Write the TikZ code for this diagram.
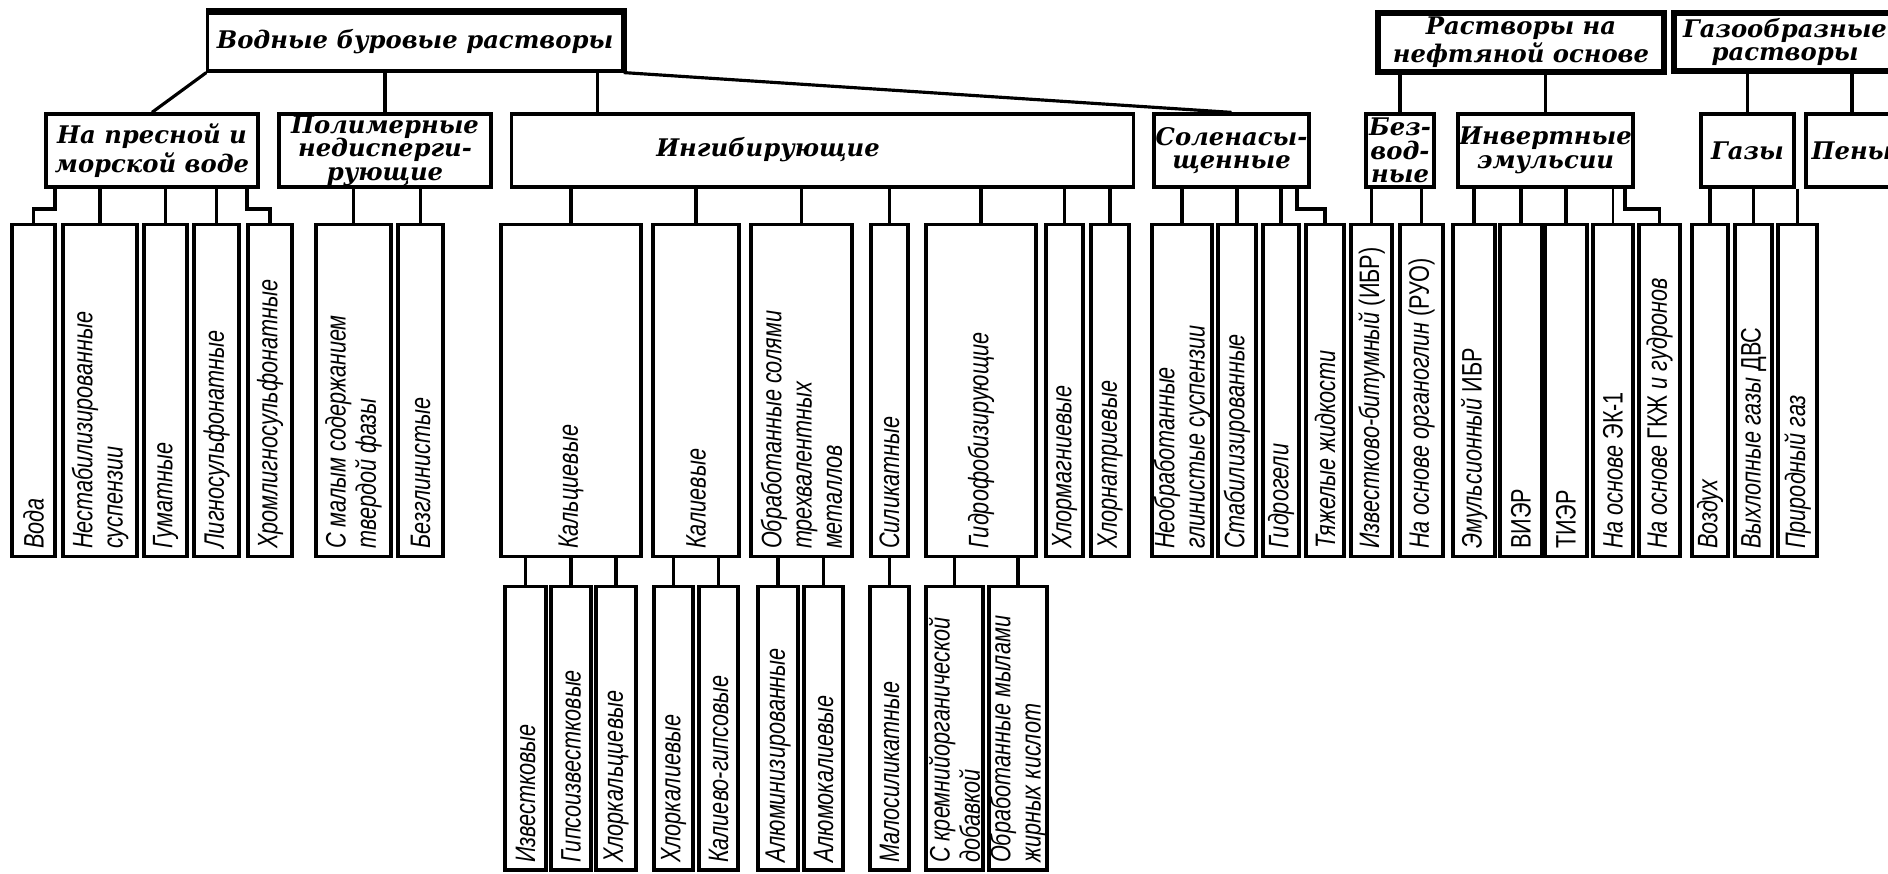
\documentclass[tikz,border=0pt]{standalone}
\usepackage{fontspec}
\newfontfamily\hdrfam{DejaVu Serif}
\newfontfamily\vfam[FakeStretch=0.77]{Liberation Sans}
\newcommand\hdrfont{\hdrfam\bfseries\itshape\fontsize{6.9pt}{6.7pt}\selectfont}
\newcommand\vfont{\vfam\itshape\fontsize{8pt}{8.6pt}\selectfont}
\newcommand\upt[1]{{\upshape #1}}
\tikzset{
  box/.style={draw, line width=0.9pt, inner sep=0pt, fill=white},
  hdr/.style={font=\hdrfont, align=center, inner sep=0pt},
  vt/.style={font=\vfont, align=left, rotate=90, anchor=west, inner sep=0pt},
  conn/.style={line width=0.9pt},
}
\newcommand\mkbox[6]{\node[box,#6,minimum width={(#4-#2)*0.284528pt},minimum height={(#5-#3)*0.284528pt}] (#1) at ({(#2+#4)/2},{(#3+#5)/2}) {};}
\newcommand\hdrbx[6]{\mkbox{#1}{#2}{#3}{#4}{#5}{}\node[hdr] (#1t) at (#1.center) {#6};}
\newcommand\tallbx[6]{\mkbox{#1}{#2}{#3}{#4}{#5}{}\node[vt] (#1t) at ([yshift=2.3pt]#1.south) {#6};}
\newcommand\vc[2]{\draw[conn] (#2.north |- #1.south) -- (#2.north);}
\begin{document}
\begin{tikzpicture}[x=0.01cm,y=-0.01cm]
\useasboundingbox (0,0) rectangle (1888,874);
% top level
\mkbox{vod}{208}{13}{622}{71}{}
\node[hdr] (vodt) at (vod.center) {Водные буровые растворы};
\draw[line width=1.8pt] (vod.north west) -- (vod.north east) -- (vod.south east);
\mkbox{neft}{1378}{13}{1664}{72}{line width=1.6pt}
\node[hdr] (neftt) at (neft.center) {Растворы на\\нефтяной основе};
\mkbox{gaz}{1674}{13}{1896}{71}{line width=1.6pt}
\node[hdr] (gazt) at (gaz.center) {Газообразные\\растворы};
% second row
\hdrbx{presn}{46}{114}{258}{187}{На пресной и\\морской воде}
\hdrbx{polim}{279}{114}{491}{187}{Полимерные\\недисперги-\\рующие}
\mkbox{ingib}{512}{114}{1133}{187}{}
\node[hdr] (ingibt) at (768,150) {Ингибирующие};
\hdrbx{solen}{1154}{114}{1309}{187}{Соленасы-\\щенные}
\hdrbx{bezv}{1366}{114}{1434}{187}{Без-\\вод-\\ные}
\hdrbx{invert}{1458}{114}{1633}{187}{Инвертные\\эмульсии}
\hdrbx{gazy}{1701}{114}{1794}{187}{Газы}
\hdrbx{peny}{1806}{114}{1898}{187}{Пены}
% connectors to second row
\draw[conn] (vod.south west) -- (presn.north);
\vc{vod}{polim}
\coordinate (ingtop) at ([xshift=-0.26cm]vod.south east);
\draw[conn] (ingtop) -- (ingtop |- ingib.north);
\draw[conn] (vod.south east) -- (solen.north);
\vc{neft}{bezv}
\vc{neft}{invert}
\vc{gaz}{gazy}
\vc{gaz}{peny}
% third row
\tallbx{voda}{12}{225}{55}{556}{Вода}
\tallbx{nestab}{63}{225}{137}{556}{Нестабилизированные\\суспензии}
\tallbx{gumat}{144}{225}{187}{556}{Гуматные}
\tallbx{ligno}{194}{225}{239}{556}{Лигносульфонатные}
\tallbx{hromlig}{248}{225}{292}{556}{Хромлигносульфонатные}
\tallbx{malym}{316}{225}{391}{556}{С малым содержанием\\твердой фазы}
\tallbx{bezgl}{398}{225}{443}{556}{Безглинистые}
\tallbx{kalc}{501}{225}{641}{556}{Кальциевые}
\tallbx{kali}{653}{225}{739}{556}{Калиевые}
\tallbx{obrsol}{751}{225}{852}{556}{Обработанные солями\\трехвалентных\\металлов}
\tallbx{silik}{871}{225}{908}{556}{Силикатные}
\tallbx{gidrof}{926}{225}{1036}{556}{Гидрофобизирующие}
\tallbx{hlormag}{1046}{225}{1083}{556}{Хлормагниевые}
\tallbx{hlornat}{1091}{225}{1129}{556}{Хлорнатриевые}
\tallbx{neobr}{1152}{225}{1212}{556}{Необработанные\\глинистые суспензии}
\tallbx{stab}{1218}{225}{1256}{556}{Стабилизированные}
\tallbx{gidrog}{1263}{225}{1299}{556}{Гидрогели}
\tallbx{tyazh}{1306}{225}{1344}{556}{Тяжелые жидкости}
\tallbx{ibr}{1351}{225}{1392}{556}{Известково-битумный \upt{(ИБР)}}
\tallbx{ruo}{1400}{225}{1443}{556}{На основе органоглин \upt{(РУО)}}
\tallbx{emibr}{1453}{225}{1495}{556}{Эмульсионный \upt{ИБР}}
\tallbx{vier}{1500}{225}{1542}{556}{\upt{ВИЭР}}
\draw[line width=1.6pt] (vier.north east) -- (vier.south east);
\tallbx{tier}{1545}{225}{1587}{556}{\upt{ТИЭР}}
\tallbx{ek}{1593}{225}{1633}{556}{На основе \upt{ЭК-1}}
\tallbx{gkzh}{1639}{225}{1680}{556}{На основе \upt{ГКЖ} и гудронов}
\tallbx{vozd}{1692}{225}{1728}{556}{Воздух}
\tallbx{vyhl}{1735}{225}{1772}{556}{Выхлопные газы \upt{ДВС}}
\tallbx{prir}{1778}{225}{1817}{556}{Природный газ}
% connectors to third row
\coordinate (st1) at (55,209);
\draw[conn] (st1 |- presn.south) -- (st1) -| (voda.north);
\vc{presn}{nestab}
\vc{presn}{gumat}
\vc{presn}{ligno}
\coordinate (st2) at (247,209);
\draw[conn] (st2 |- presn.south) -- (st2) -| (hromlig.north);
\vc{polim}{malym}
\vc{polim}{bezgl}
\vc{ingib}{kalc}
\vc{ingib}{kali}
\vc{ingib}{obrsol}
\vc{ingib}{silik}
\vc{ingib}{gidrof}
\vc{ingib}{hlormag}
\vc{ingib}{hlornat}
\vc{solen}{neobr}
\vc{solen}{stab}
\vc{solen}{gidrog}
\coordinate (st3) at (1297,209);
\draw[conn] (st3 |- solen.south) -- (st3) -| (tyazh.north);
\vc{bezv}{ibr}
\vc{bezv}{ruo}
\vc{invert}{emibr}
\vc{invert}{vier}
\vc{invert}{tier}
\draw[line width=0.5pt] (ek.north |- invert.south) -- (ek.north);
\coordinate (st4) at (1625,209);
\draw[conn] (st4 |- invert.south) -- (st4) -| (gkzh.north);
\vc{gazy}{vozd}
\vc{gazy}{vyhl}
\vc{gazy}{prir}
% fourth row
\tallbx{izv}{505}{587}{546}{870}{Известковые}
\tallbx{gipso}{551}{587}{591}{870}{Гипсоизвестковые}
\tallbx{hlorkalc}{596}{587}{636}{870}{Хлоркальциевые}
\tallbx{hlorkal}{654}{587}{693}{870}{Хлоркалиевые}
\tallbx{kaligips}{699}{587}{738}{870}{Калиево-гипсовые}
\tallbx{alumin}{758}{587}{798}{870}{Алюминизированные}
\tallbx{alumkal}{804}{587}{843}{870}{Алюмокалиевые}
\tallbx{malosil}{870}{587}{909}{870}{Малосиликатные}
\tallbx{kremn}{926}{587}{983}{870}{С кремнийорганической\\добавкой}
\tallbx{myl}{989}{587}{1047}{870}{Обработанные мылами\\жирных кислот}
% connectors to fourth row
\vc{kalc}{izv}
\vc{kalc}{gipso}
\vc{kalc}{hlorkalc}
\vc{kali}{hlorkal}
\vc{kali}{kaligips}
\vc{obrsol}{alumin}
\vc{obrsol}{alumkal}
\vc{silik}{malosil}
\vc{gidrof}{kremn}
\vc{gidrof}{myl}
\end{tikzpicture}
\end{document}
